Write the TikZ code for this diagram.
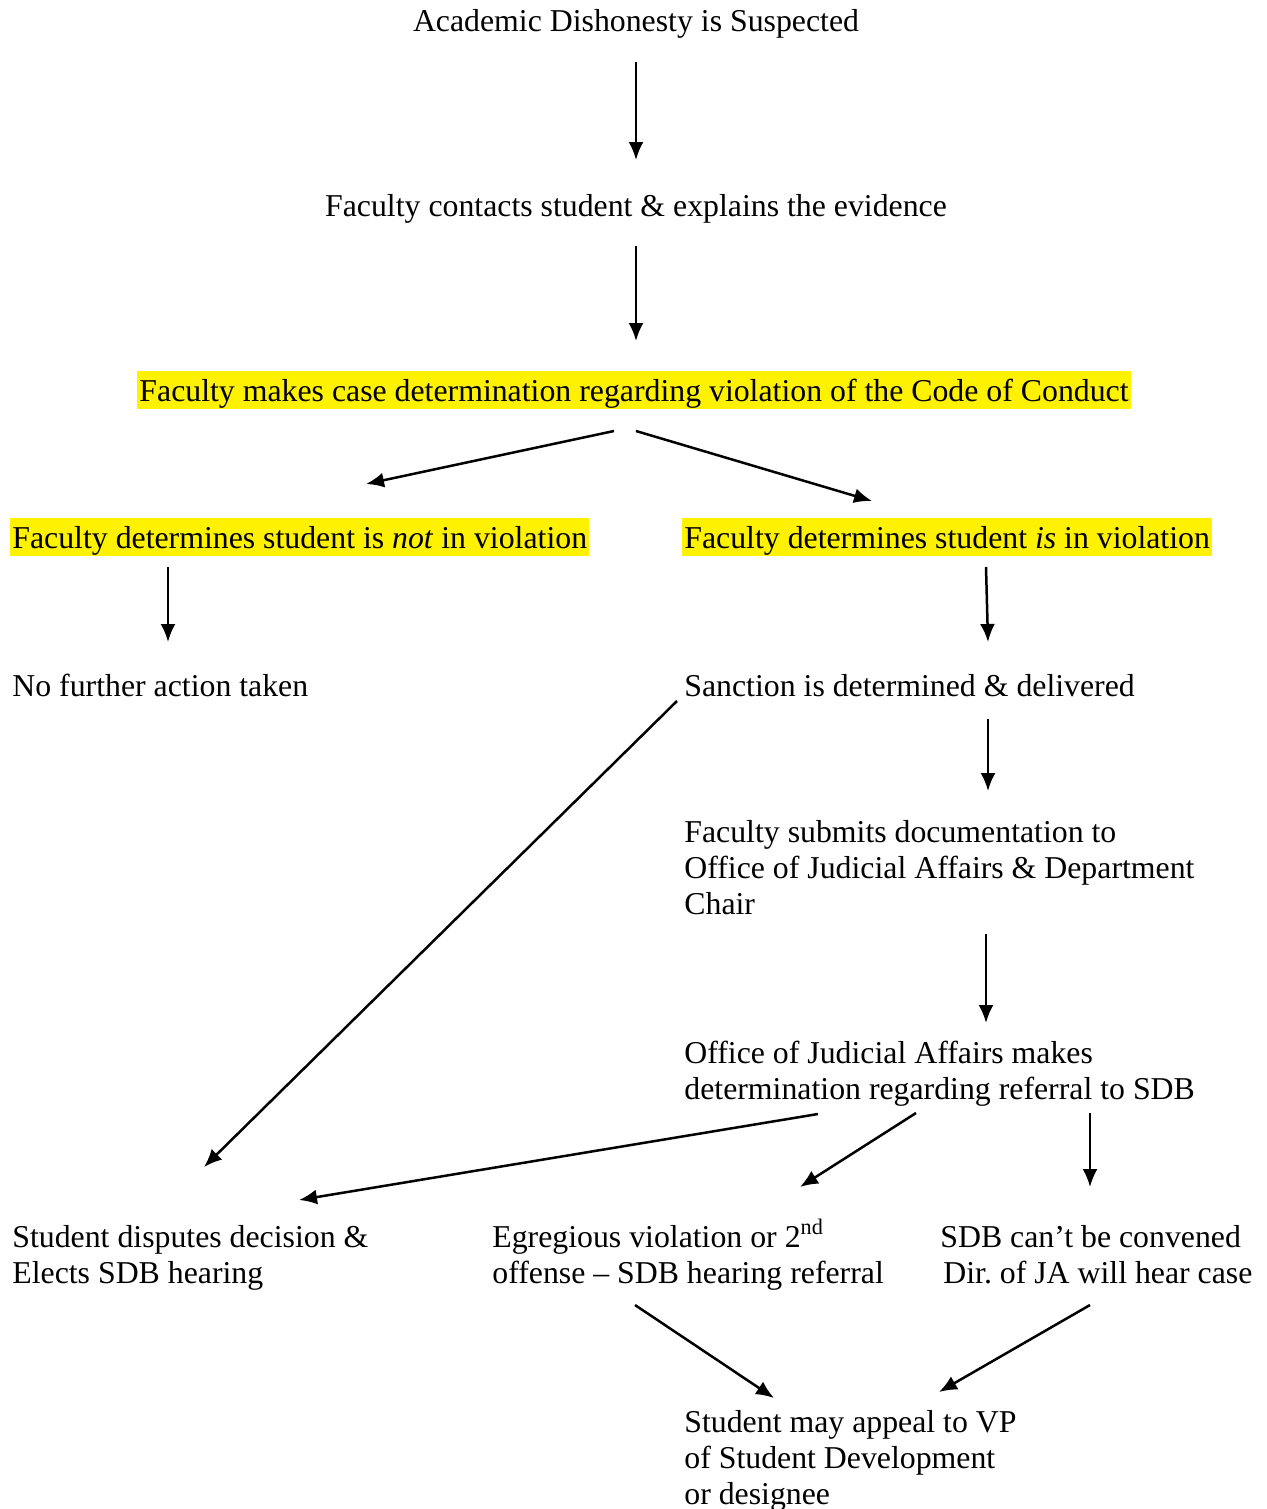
\documentclass[tikz,border=0pt]{standalone}
\usepackage{fontspec}
\setmainfont{Liberation Serif}
\usepackage{xcolor}
\usepackage{tikz}
\usetikzlibrary{positioning}
\usetikzlibrary{arrows.meta}

\begin{document}
\begin{tikzpicture}[
      x=0.5pt, y=-0.5pt,
      every node/.style={font=\fontsize{15.9}{18}\selectfont},
      type-text/.style={anchor=base west, inner sep=0pt, align=left},
      type-mark/.style={anchor=base west, fill=yellow, inner xsep=1pt, inner ysep=0pt, text height=15pt, text depth=4pt},
      type-arrow/.style={-{Latex[length=9pt,width=7.5pt]}, line width=1.25pt}
    ]
      \useasboundingbox (0,0) rectangle (1266,1509);

      % steps (multi-line nodes sit on their last line)
      \node[type-text, anchor=base] (suspect) at (636,32) {Academic Dishonesty is Suspected};
      \node[type-text, anchor=base] (contact) at (636,216) {Faculty contacts student \& explains the evidence};
      \node[type-mark, anchor=base] (decide) at (634,401) {Faculty makes case determination regarding violation of the Code of Conduct};
      \node[type-mark] (notviol) at (10,548) {Faculty determines student is \textit{not} in violation};
      \node[type-mark] (isviol) at (682,548) {Faculty determines student \textit{is} in violation};
      \node[type-text] (noaction) at (12,696) {No further action taken};
      \node[type-text] (sanction) at (684,696) {Sanction is determined \& delivered};
      \node[type-text] (submit) at (684,914) {Faculty submits documentation to\\Office of Judicial Affairs \& Department\\Chair};
      \node[type-text] (referral) at (684,1099) {Office of Judicial Affairs makes\\determination regarding referral to SDB};
      \node[type-text] (dispute) at (12,1283) {Student disputes decision \&\\Elects SDB hearing};
      \node[type-text] (egregious) at (492,1283) {Egregious violation or 2\textsuperscript{nd}\\offense -- SDB hearing referral};
      \node[type-text] (convene) at (940,1283) {SDB can't be convened\\\hspace{1.5pt}Dir.\ of JA will hear case};
      \node[type-text] (appeal) at (684,1504) {Student may appeal to VP\\of Student Development\\or designee};

      % arrow ends
      \coordinate (s1) at (636,62);    \coordinate (e1) at (636,160);
      \coordinate (s2) at (636,246);   \coordinate (e2) at (636,341);
      \coordinate (s3) at (614,431);   \coordinate (e3) at (366,484);
      \coordinate (s4) at (636,431);   \coordinate (e4) at (872,501);
      \coordinate (s5) at (168,567);   \coordinate (e5) at (168,642);
      \coordinate (s6) at (986,567);   \coordinate (e6) at (988,642);
      \coordinate (s7) at (677,701);   \coordinate (e7) at (204,1167);
      \coordinate (s8) at (988,719);   \coordinate (e8) at (988,791);
      \coordinate (s9) at (986,934);   \coordinate (e9) at (986,1023);
      \coordinate (s10) at (818,1114); \coordinate (e10) at (299,1200);
      \coordinate (s11) at (916,1113); \coordinate (e11) at (800,1187);
      \coordinate (s12) at (1090,1113); \coordinate (e12) at (1090,1187);
      \coordinate (s13) at (635,1305); \coordinate (e13) at (774,1398);
      \coordinate (s14) at (1090,1305); \coordinate (e14) at (939,1392);

      % connectors
      \foreach \i in {1,...,14}
        \draw[type-arrow] (s\i) -- (e\i);
    \end{tikzpicture}
\end{document}
